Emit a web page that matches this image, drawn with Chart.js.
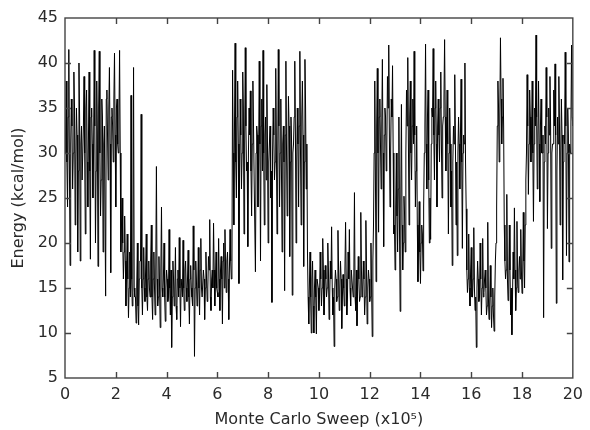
<!DOCTYPE html>
<html>
<head>
<meta charset="utf-8">
<script src="https://cdn.jsdelivr.net/npm/chart.js@4/dist/chart.umd.min.js"></script>
<style>
  html, body { margin: 0; padding: 0; background: #fff; }
  #wrap { width: 590px; height: 430px; }
</style>
</head>
<body>
<div id="wrap"><canvas id="c" width="590" height="430"></canvas></div>
<script>
// ---- Data (Monte Carlo sweep in units of 1e5, energy in kcal/mol) ----
// Each segment: readings at start + i*0.05 (main) and start + i*0.05 + 0.025 (mid)
const sweepStep = 0.05;
const sweepStart = [0, 2.2, 2.6, 6.6, 9.6, 12.15, 15.85, 17.0, 17.35, 18.15];

const highA = [30,38,24,41.5,17.5,36,26,39,22,35,19,40,18,33,27,38.5,21,37,24,39,18.2,35,25,41.4,20,38,17.4,41.3,23,36,19,33,14.1,37,27,39.5,16.7,35,29,41.1,24,36,30,41.4];
const highAmid = [32,29,34,28,31,33,30,35,29,32,28,34,31,27,33,30,35,29,32,28,34,31,30,33,28,32,35,30,27,34,31,33,36,32,35,31,34,33,36,32,35,31,34,30];
const dropB = [19,25,16,23,13,21,11.7,19];
const dropBmid = [22,20,19,18,17,16,15,14];
const lowC = [36.4,13,39.5,14,11.1,20,10.9,18,34.3,12,
  19.5,13.5,21,12.5,18,14,22,11.5,19,12,
  28.5,13,18.5,10.6,24,14,20,11.3,17,13.5,
  21.5,12,8.4,18,13,19.5,11.5,17,20.6,10.7,
  16,20.3,12.5,18,13.5,19.2,11,17.5,14,21.9,
  7.4,18,13,19.5,12,20.5,14,17,11.5,19,
  13.5,18.5,22.6,12.5,17,22.2,13,19,14.5,20.5,
  12.5,18.5,11,20,21.5,14.5,19,11.5,21.5,16];
const lowCmid = [16,17,15,14,15,13,16,18,15,16,
  15,17,14,16,15,18,14,16,15,17,
  16,14,15,17,15,16,14,15,16,14,
  15,17,14,16,15,13,16,14,15,16,
  14,15,17,15,16,14,16,15,13,17,
  15,16,14,15,17,15,14,16,15,16,
  15,17,14,16,15,17,16,15,14,16,
  17,16,18,15,17,18,16,17,18,17];
const highD = [39.2,22,42.2,25,38,15.5,36,26,39,21,
  41.7,28,19.6,35,36.9,23,38,27,16.8,33,
  24,40.2,18,36,41.4,22,34,37.6,20,31,
  25,13.4,35,27,39.4,21,41.5,24,36,19,
  33,14.7,40.2,23,36.3,18.5,34,14.2,31,40.2,
  20,35,24,41.3,22,38,17.4,40.4,26,19];
const highDmid = [30,33,29,34,31,28,32,30,35,31,
  33,29,30,32,28,31,33,27,30,32,
  29,31,33,28,30,32,27,31,29,33,
  28,30,32,29,31,27,33,30,28,31,
  29,32,30,28,33,29,31,30,34,32,
  29,31,33,30,34,32,29,35,31,14];
const lowE = [11,19,10,18,10,17,9.9,16,12.5,19,
  13,20.5,12,17.5,14,20,11.5,18,21.8,12,
  8.5,17,13.5,21.4,12.5,18,10.5,16.5,13,22.3,
  12,19,21.5,13,17,14,25.6,12.5,10.8,18.5,
  13.5,23.4,14,18,12,22.5,11,17,13.5,20,
  9.6];
const lowEmid = [15,14,16,13,15,14,16,15,14,16,
  15,17,14,16,15,17,14,16,15,14,
  15,16,14,17,15,16,14,15,17,16,
  14,16,15,17,15,16,14,17,15,16,
  14,17,15,16,14,17,15,16,14,15,
  18];
const highF = [22,38,15.7,39.4,21.2,36,26,40.4,19.6,35,
  28,38.5,42,24,36,39.7,21,17,30,19,
  34,12.4,35.4,17,25.2,19,37,40.6,22,38,
  27,36,41.3,24,33,15.7,24.6,15.5,22,16.9,
  30,42.1,26,37,20,20.4,35,41.6,27,38,
  24,36,29,39,25,34,42.6,28,37,21,
  35,24,17.5,33,38.7,22,18.6,34,26,38.2,
  19.4,32,40,23.8];
const highFmid = [30,28,33,30,34,31,33,30,32,34,
  31,35,32,30,34,30,22,24,23,26,
  21,25,22,20,23,30,33,31,34,30,
  33,31,32,28,22,20,19,20,21,24,
  33,31,34,27,25,31,34,32,35,31,
  33,32,35,31,33,36,34,32,31,30,
  31,28,29,31,32,29,30,31,32,29,
  30,31,29,17];
const lowG = [14.5,21,13,19.5,14,21.7,12.5,8.4,18,13.5,20,12,20.5,14.5,17,12,22.3,11.5,17.5,10.6,15,10.2,18];
const lowGmid = [16,15,17,14,16,15,14,15,16,14,16,15,14,16,15,13,14,13,14,13,12,14,20];
const spikeH = [24,38,29,42.8,31,38.3,22];
const spikeHmid = [33,35,34,36,34,33,18];
const lowI = [16,25.4,13.6,22,12,9.8,19,23.9,12.5,22.4,14.5,18.5,21.5,14.4,23.4,15];
const lowImid = [17,16,15,17,15,14,16,17,15,16,17,16,17,16,18,22];
const highJ = [27,38.7,25.4,37,29,38,22.4,35,43.1,26,
  38,24.6,36,30,11.7,33,39.5,21.6,35,38.5,
  19.4,31,37,39.9,13.3,34,38.5,22,36,15.9,
  32,41.2,18.6,35,17.9,30,42,33];
const highJmid = [30,33,31,34,32,30,31,33,34,32,
  31,33,30,32,29,31,34,30,32,33,
  30,31,33,32,28,31,33,30,32,29,
  31,33,30,32,31,33,34];

const xTicks = [0,2,4,6,8,10,12,14,16,18,20];
const yTicks = [5,10,15,20,25,30,35,40,45];
const xTitle = 'Monte Carlo Sweep (x10\u2075)';
const yTitle = 'Energy (kcal/mol)';

// ---- Build points ----
const segMain = [highA, dropB, lowC, highD, lowE, highF, lowG, spikeH, lowI, highJ];
const segMid = [highAmid, dropBmid, lowCmid, highDmid, lowEmid, highFmid, lowGmid, spikeHmid, lowImid, highJmid];
const points = [];
segMain.forEach((seg, k) => {
  seg.forEach((v, i) => {
    const x0 = sweepStart[k] + i * sweepStep;
    points.push({ x: +x0.toFixed(3), y: v });
    const m = segMid[k][i];
    if (m !== undefined) points.push({ x: +(x0 + sweepStep / 2).toFixed(3), y: m });
  });
});

const FONT = { family: '"DejaVu Sans", sans-serif', size: 16 };
const TEXT = '#2a2a2a';

const frameTicks = {
  id: 'frameTicks',
  afterDraw(chart) {
    const { ctx, chartArea: { left, right, top, bottom }, scales: { x, y } } = chart;
    ctx.save();
    ctx.strokeStyle = '#444';
    ctx.lineWidth = 1.4;
    ctx.strokeRect(left, top, right - left, bottom - top);
    const L = 6;
    ctx.beginPath();
    xTicks.forEach(v => {
      if (v === xTicks[0] || v === xTicks[xTicks.length - 1]) return;
      const px = Math.round(x.getPixelForValue(v)) + 0.5;
      ctx.moveTo(px, bottom); ctx.lineTo(px, bottom - L);
      ctx.moveTo(px, top); ctx.lineTo(px, top + L);
    });
    yTicks.forEach(v => {
      if (v === yTicks[0] || v === yTicks[yTicks.length - 1]) return;
      const py = Math.round(y.getPixelForValue(v)) + 0.5;
      ctx.moveTo(left, py); ctx.lineTo(left + L, py);
      ctx.moveTo(right, py); ctx.lineTo(right - L, py);
    });
    ctx.stroke();
    ctx.restore();
  }
};

new Chart(document.getElementById('c'), {
  type: 'line',
  data: {
    datasets: [{
      data: points,
      borderColor: '#000',
      borderWidth: 1,
      pointRadius: 0,
      tension: 0,
      fill: false
    }]
  },
  options: {
    responsive: false,
    animation: false,
    devicePixelRatio: 1,
    layout: { padding: { left: 0, right: 14, top: 18, bottom: 0 } },
    plugins: { legend: { display: false }, tooltip: { enabled: false } },
    scales: {
      x: {
        type: 'linear', min: 0, max: 20,
        afterBuildTicks: s => { s.ticks = xTicks.map(v => ({ value: v })); },
        afterFit: s => { s.height = 52; },
        grid: { display: false, drawTicks: false },
        border: { display: false },
        ticks: { font: FONT, color: TEXT, padding: 7, maxRotation: 0, autoSkip: false },
        title: { display: true, text: xTitle, font: FONT, color: TEXT, padding: { top: 0, bottom: 1 } }
      },
      y: {
        type: 'linear', min: 5, max: 45,
        afterBuildTicks: s => { s.ticks = yTicks.map(v => ({ value: v })); },
        afterFit: s => { s.width = 65; },
        grid: { display: false, drawTicks: false },
        border: { display: false },
        ticks: { font: FONT, color: TEXT, padding: 7 },
        title: { display: true, text: yTitle, font: FONT, color: TEXT, padding: { top: 9, bottom: 0 } }
      }
    }
  },
  plugins: [frameTicks]
});
</script>
</body>
</html>
